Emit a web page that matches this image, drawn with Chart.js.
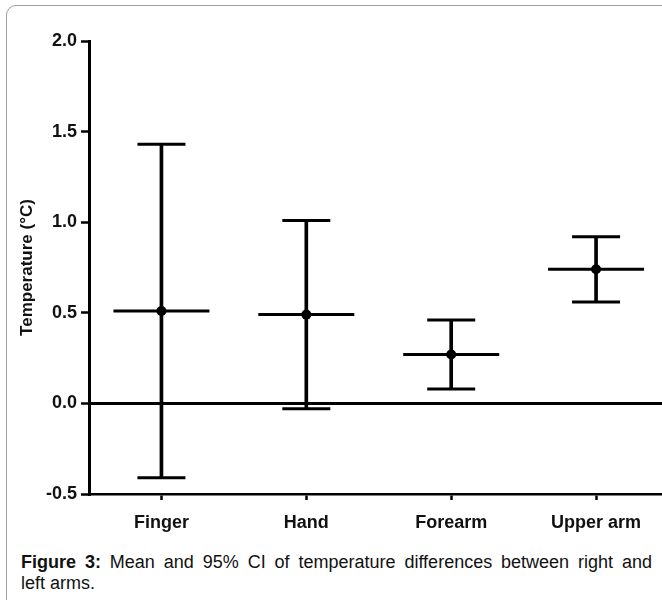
<!DOCTYPE html>
<html>
<head>
<meta charset="utf-8">
<script src="https://cdn.jsdelivr.net/npm/chart.js@4/dist/chart.umd.min.js"></script>
<style>
  html, body { margin: 0; padding: 0; background: #fff; overflow: hidden; width: 662px; height: 600px; }
  #frame {
    position: absolute; left: 6px; top: 5px; width: 700px; height: 620px;
    border: 1.5px solid #a0a0a0; border-top-left-radius: 10px; box-sizing: border-box;
  }
  #plot { position: absolute; left: 0; top: 0; }
  .caption {
    position: absolute; left: 21px; width: 631px; white-space: nowrap;
    font-family: "Liberation Sans", Arial, sans-serif; font-size: 18px; line-height: 21px; color: #111;
  }
  #cap1 { top: 552px; text-align: justify; text-align-last: justify; }
  #cap2 { top: 573px; }
</style>
</head>
<body>
<div id="frame"></div>
<canvas id="plot" width="680" height="540"></canvas>
<div class="caption" id="cap1"><b>Figure 3:</b> Mean and 95% CI of temperature differences between right and</div>
<div class="caption" id="cap2">left arms.</div>
<script>
// values (°C)
const sites = ['Finger', 'Hand', 'Forearm', 'Upper arm'];
const means = [0.51, 0.49, 0.27, 0.74];
const ciLow = [-0.41, -0.03, 0.08, 0.56];
const ciHigh = [1.43, 1.01, 0.46, 0.92];
const yTicks = [-0.5, 0.0, 0.5, 1.0, 1.5, 2.0];

const tickFont = { family: "'Liberation Sans', Arial, sans-serif", size: 18, weight: 'bold' };

// keep chart.js from shrinking the plot for label overhang
function noPad(scale) {
    scale.paddingTop = 0;
    scale.paddingBottom = 0;
    scale.paddingLeft = 0;
    scale.paddingRight = 0;
}

const ctx = document.getElementById('plot').getContext('2d');
new Chart(ctx, {
    type: 'bar',
    data: {
        labels: sites,
        datasets: [
            {
                // mean marker
                type: 'line', data: means, showLine: false,
                pointStyle: 'circle', pointRadius: 5,
                pointBackgroundColor: '#000', pointBorderColor: '#000', pointBorderWidth: 0
            },
            {
                // mean bar
                type: 'line', data: means, showLine: false,
                pointStyle: 'line', pointRadius: 48,
                pointBorderColor: '#000', pointBorderWidth: 3
            },
            {
                type: 'line', data: ciHigh, showLine: false,
                pointStyle: 'line', pointRadius: 24,
                pointBorderColor: '#000', pointBorderWidth: 3
            },
            {
                type: 'line', data: ciLow, showLine: false,
                pointStyle: 'line', pointRadius: 24,
                pointBorderColor: '#000', pointBorderWidth: 3
            },
            {
                // vertical whisker
                type: 'bar',
                data: ciLow.map((lo, i) => [lo, ciHigh[i]]),
                backgroundColor: '#000', borderWidth: 0,
                barThickness: 3
            }
        ]
    },
    options: {
        responsive: false,
        animation: false,
        events: [],
        layout: { autoPadding: false, padding: { left: 0, top: 41, right: 11.5, bottom: 0 } },
        plugins: { legend: { display: false }, tooltip: { enabled: false } },
        scales: {
            x: {
                offset: true,
                afterFit: (scale) => { scale.height = 46; noPad(scale); },
                border: { display: true, color: '#000', width: 2.5 },
                grid: {
                    offset: false, drawOnChartArea: false, drawTicks: true,
                    tickLength: 6, tickColor: '#000', tickWidth: 2.5
                },
                ticks: { color: '#111', font: tickFont, padding: 12, maxRotation: 0 }
            },
            y: {
                min: -0.5, max: 2.0,
                afterFit: (scale) => { scale.width = 89; noPad(scale); },
                afterBuildTicks: (scale) => { scale.ticks = yTicks.map(v => ({ value: v })); },
                border: { display: true, color: '#000', width: 3 },
                grid: {
                    drawOnChartArea: true, drawTicks: true, tickLength: 8,
                    // only the zero line is drawn across the plot
                    color: (c) => (c.tick && c.tick.value === 0 ? '#000' : 'rgba(0,0,0,0)'),
                    lineWidth: 3,
                    tickColor: '#000', tickWidth: 2.5
                },
                ticks: {
                    color: '#111', font: tickFont, padding: 4,
                    callback: (v) => Number(v).toFixed(1)
                },
                title: {
                    display: true, text: 'Temperature (°C)', color: '#111',
                    font: { family: "'Liberation Sans', Arial, sans-serif", size: 17, weight: 'bold' },
                    padding: { top: 16.8, bottom: 0 }
                }
            }
        }
    }
});
</script>
</body>
</html>
